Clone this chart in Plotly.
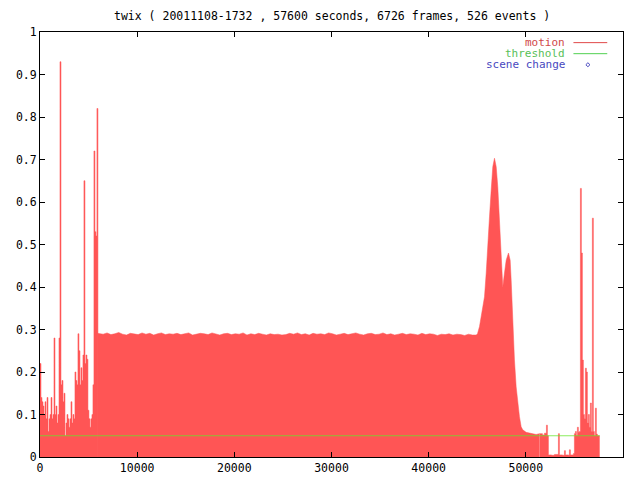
import plotly.graph_objects as go

# ---- data (seconds, motion value) ----
left_t = [0, 103, 206, 308, 411, 514, 617, 720, 822, 925, 1028, 1131, 1234, 1336, 1439, 1542,
          1645, 1748, 1850, 1953, 2056, 2159, 2262, 2364, 2467, 2570, 2673, 2776, 2878, 2981,
          3084, 3187, 3290, 3392, 3495, 3598, 3701, 3804, 3906, 4009, 4112, 4215, 4318, 4420,
          4523, 4626, 4729, 4832, 4934, 5037, 5140, 5243, 5346, 5448, 5551, 5654, 5757, 5860, 5962]
left_v = [0.22, 0.14, 0.13, 0.12, 0.10, 0.13, 0.09, 0.14, 0.06, 0.09,
          0.10, 0.14, 0.09, 0.10, 0.28, 0.10, 0.12, 0.08, 0.10, 0.28,
          0.93, 0.17, 0.18, 0.13, 0.15, 0.05, 0.08, 0.10, 0.09, 0.07,
          0.09, 0.13, 0.08, 0.10, 0.09, 0.20, 0.18, 0.17, 0.29, 0.25,
          0.17, 0.21, 0.18, 0.24, 0.65, 0.22, 0.24, 0.23, 0.11, 0.09,
          0.07, 0.09, 0.10, 0.17, 0.72, 0.53, 0.52, 0.82, 0.29]

plateau_t = [5900, 6500, 6900, 7300, 7700, 8100, 8500, 8900, 9300, 9700, 10100, 10500, 10900,
             11300, 11700, 12100, 12500, 12900, 13300, 13700, 14100, 14500, 14900, 15300,
             15700, 16100, 16500, 16900, 17300, 17700, 18100, 18500, 18900, 19300, 19700,
             20100, 20500, 20900, 21300, 21700, 22100, 22500, 22900, 23300, 23700, 24100,
             24500, 24900, 25300, 25700, 26100, 26500, 26900, 27300, 27700, 28100, 28500,
             28900, 29300, 29700, 30100, 30500, 30900, 31300, 31700, 32100, 32500, 32900,
             33300, 33700, 34100, 34500, 34900, 35300, 35700, 36100, 36500, 36900, 37300,
             37700, 38100, 38500, 38900, 39300, 39700, 40100, 40500, 40900, 41300, 41700,
             42100, 42500, 42900, 43300, 43700, 44100, 44500]
plateau_v = [0.291, 0.289, 0.292, 0.288, 0.290, 0.293, 0.289, 0.287, 0.291, 0.290,
             0.288, 0.292, 0.289, 0.291, 0.287, 0.290, 0.292, 0.288, 0.290, 0.289,
             0.291, 0.288, 0.290, 0.292, 0.287, 0.289, 0.291, 0.290, 0.288, 0.292,
             0.289, 0.287, 0.290, 0.291, 0.288, 0.290, 0.289, 0.292, 0.287, 0.290,
             0.288, 0.291, 0.289, 0.287, 0.290, 0.288, 0.289, 0.287, 0.288, 0.291,
             0.289, 0.292, 0.288, 0.290, 0.287, 0.291, 0.289, 0.290, 0.288, 0.292,
             0.290, 0.287, 0.289, 0.291, 0.288, 0.290, 0.292, 0.289, 0.287, 0.290,
             0.291, 0.288, 0.289, 0.292, 0.288, 0.290, 0.287, 0.289, 0.291, 0.288,
             0.290, 0.289, 0.287, 0.291, 0.288, 0.290, 0.289, 0.286, 0.289, 0.288,
             0.290, 0.287, 0.289, 0.288, 0.286, 0.289, 0.287]

hump_t = [44900, 45026, 45232, 45407, 45572, 45746, 45921, 46086, 46260, 46435, 46599, 46774,
          46949, 47113, 47288, 47463, 47566, 47627, 47802, 47977, 48213, 48388, 48491, 48655,
          48830, 49005, 49169, 49344, 49519, 49683, 50033, 50372, 50680, 51061, 51400]
hump_v = [0.287, 0.290, 0.307, 0.330, 0.350, 0.377, 0.433, 0.510, 0.565, 0.628, 0.683, 0.703,
          0.683, 0.636, 0.550, 0.448, 0.424, 0.400, 0.433, 0.463, 0.480, 0.463, 0.416, 0.307,
          0.228, 0.165, 0.127, 0.095, 0.071, 0.064, 0.058, 0.056, 0.055, 0.053, 0.055]

right_t = [51400, 51708, 51914, 52120, 52222, 52325, 52634, 52942, 53353, 53456, 53764, 53970,
           54073, 54381, 54484, 54587, 54895, 54998, 55101, 55204, 55306, 55409, 55512, 55615,
           55718, 55820, 55923, 56026, 56129, 56232, 56334, 56437, 56540, 56643, 56746, 56848,
           56951, 57054, 57157, 57260, 57362, 57600]
right_v = [0.055, 0.052, 0.056, 0.075, 0.050, 0.005, 0.004, 0.006, 0.055, 0.005, 0.004, 0.015,
           0.005, 0.004, 0.017, 0.005, 0.008, 0.055, 0.060, 0.050, 0.070, 0.058, 0.060, 0.632,
           0.480, 0.228, 0.100, 0.090, 0.209, 0.200, 0.080, 0.100, 0.070, 0.127, 0.060, 0.562,
           0.060, 0.050, 0.115, 0.054, 0.050, 0.050]

threshold_t = [0, 57600]
threshold_value = 0.05

x_ticks = [0, 10000, 20000, 30000, 40000, 50000, 60000]
y_ticks = [0, 0.1, 0.2, 0.3, 0.4, 0.5, 0.6, 0.7, 0.8, 0.9, 1]
y_tick_text = ["0", "0.1", "0.2", "0.3", "0.4", "0.5", "0.6", "0.7", "0.8", "0.9", "1"]

title_text = "twix ( 20011108-1732 , 57600 seconds, 6726 frames, 526 events )"
legend_items = ["motion", "threshold", "scene change"]

FONT = "DejaVu Sans Mono"
RED_FILL = "#ff5555"
GREEN = "rgba(100,230,40,0.75)"

fig = go.Figure()
# spiky parts drawn as columns (like gnuplot impulses), smooth middle as a filled curve
for seg_t, seg_v, shape in [(left_t, left_v, "hv"),
                            (plateau_t + hump_t, plateau_v + hump_v, "linear"),
                            (right_t, right_v, "hv")]:
    fig.add_trace(go.Scatter(
        x=seg_t, y=seg_v, mode="lines", line=dict(shape=shape, width=0.5, color=RED_FILL),
        fill="tozeroy", fillcolor=RED_FILL, showlegend=False, hoverinfo="skip"))
fig.add_trace(go.Scatter(
    x=threshold_t, y=[threshold_value] * len(threshold_t), mode="lines",
    line=dict(color=GREEN, width=1), showlegend=False, hoverinfo="skip"))

axis_common = dict(showline=True, linecolor="black", linewidth=1, mirror="allticks",
                   ticks="inside", ticklen=5, tickcolor="black", showgrid=False,
                   zeroline=False, automargin=False,
                   tickfont=dict(family=FONT, size=11.5, color="black"))

fig.update_layout(
    width=640, height=480,
    margin=dict(l=40, r=17, t=32, b=23),
    paper_bgcolor="white", plot_bgcolor="white",
    showlegend=False,
    xaxis=dict(range=[0, 60000], tickvals=x_ticks, ticktext=[str(v) for v in x_ticks], **axis_common),
    yaxis=dict(range=[0, 1], tickvals=y_ticks, ticktext=y_tick_text, **axis_common),
    font=dict(family=FONT, size=11.5, color="black"),
)

# title
fig.add_annotation(text=title_text, xref="paper", yref="paper", x=0.5, y=1 + 16.5 / 425,
                   xanchor="center", yanchor="middle", showarrow=False,
                   font=dict(family=FONT, size=11.5, color="black"))

# legend (gnuplot style: right-aligned text, sample on the right)
leg_colors = ["#d04848", "#58c058", "#4848c0"]
leg_y = [0.975, 0.949, 0.923]
for name, col, yy in zip(legend_items, leg_colors, leg_y):
    fig.add_annotation(text=name, xref="paper", yref="paper", x=0.903, y=yy,
                       xanchor="right", yanchor="middle", showarrow=False,
                       borderpad=0,
                       font=dict(family=FONT, size=11, color=col))
fig.add_shape(type="line", xref="paper", yref="paper", x0=0.915, x1=0.973, y0=leg_y[0], y1=leg_y[0],
              line=dict(color="#e04848", width=1))
fig.add_shape(type="line", xref="paper", yref="paper", x0=0.915, x1=0.973, y0=leg_y[1], y1=leg_y[1],
              line=dict(color="#50d050", width=1))
cx, cy, dx, dy = 0.9398, leg_y[2], 0.0035, 0.0047
fig.add_shape(type="path", xref="paper", yref="paper",
              path=f"M {cx-dx} {cy} L {cx} {cy+dy} L {cx+dx} {cy} L {cx} {cy-dy} Z",
              line=dict(color="#4848c0", width=1))

fig.write_html("out.html", config={"displayModeBar": False},
               post_script="document.body.style.margin='0';")
